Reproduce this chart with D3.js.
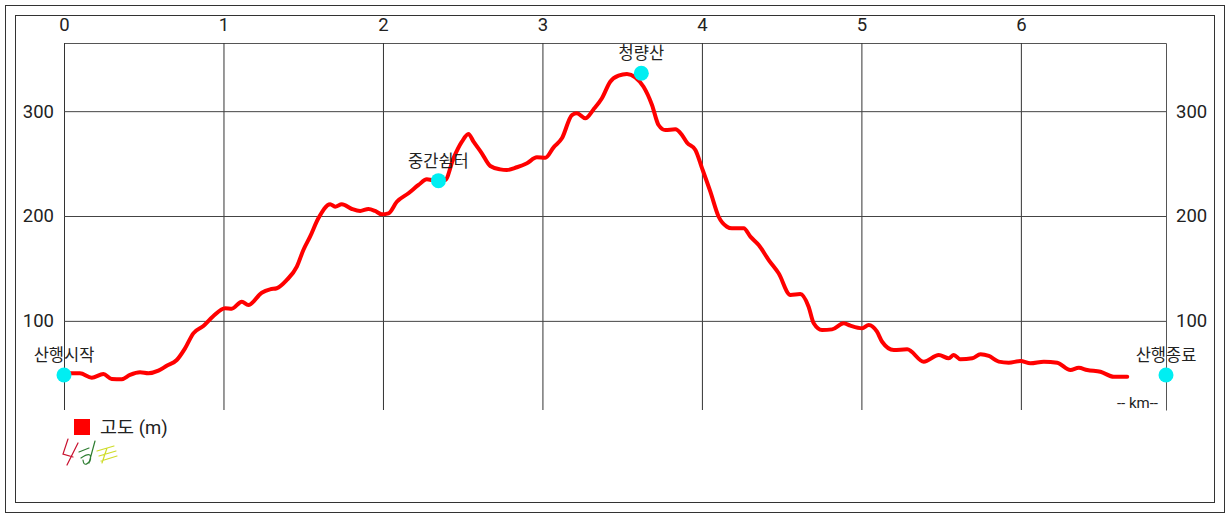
<!DOCTYPE html>
<html>
<head>
<meta charset="utf-8">
<script src="https://cdn.jsdelivr.net/npm/d3@7/dist/d3.min.js"></script>
<style>
  html, body { margin: 0; padding: 0; background: #fff; }
  svg { display: block; }
  text { font-family: Roboto, "Noto Sans CJK KR", sans-serif; fill: #222; }
</style>
</head>
<body>
<svg id="chart" width="1230" height="518"></svg>
<script>
// ---- data ----
const distanceKm = [0.000,0.038,0.100,0.174,0.247,0.299,0.362,0.414,0.477,0.529,0.592,0.644,0.707,0.759,0.811,0.874,0.937,1.010,1.052,1.115,1.156,1.240,1.292,1.334,1.397,1.460,1.501,1.543,1.595,1.669,1.700,1.742,1.805,1.857,1.909,1.951,1.993,2.035,2.087,2.160,2.223,2.275,2.307,2.348,2.390,2.442,2.495,2.536,2.568,2.620,2.673,2.735,2.777,2.840,2.903,2.965,3.018,3.070,3.122,3.185,3.216,3.269,3.321,3.373,3.425,3.477,3.530,3.582,3.634,3.687,3.728,3.770,3.833,3.875,3.907,3.959,4.001,4.053,4.105,4.157,4.188,4.262,4.304,4.356,4.419,4.481,4.555,4.617,4.669,4.701,4.753,4.816,4.889,4.931,5.004,5.046,5.098,5.130,5.203,5.287,5.391,5.485,5.548,5.579,5.621,5.695,5.747,5.799,5.861,5.924,5.997,6.060,6.144,6.228,6.311,6.363,6.416,6.499,6.583,6.667];
const elevationM = [49.5,50.0,50.0,45.8,49.3,44.6,44.3,48.4,50.9,50.0,52.5,57.2,62.7,73.8,88.1,95.1,104.6,112.0,111.6,118.3,115.1,126.9,130.1,131.1,139.0,151.7,167.6,180.3,197.8,211.2,208.9,211.2,206.7,204.8,206.7,204.8,201.6,202.6,213.6,221.7,229.6,235.0,234.3,233.7,234.3,255.0,270.9,278.2,270.9,259.8,247.7,244.5,243.9,246.5,250.3,256.0,255.6,265.5,274.1,296.3,298.0,293.2,301.8,312.3,328.1,333.8,335.4,332.3,323.3,305.9,286.8,282.0,282.7,277.3,269.9,263.0,245.5,223.2,199.3,189.8,188.3,188.3,180.3,172.4,158.0,145.4,124.7,125.6,113.5,97.7,91.3,91.9,97.7,95.4,92.9,96.1,89.7,80.1,72.2,72.9,61.1,67.5,64.3,67.5,63.3,64.3,68.1,66.5,61.1,60.1,61.7,59.5,61.1,60.1,53.1,55.3,53.1,51.5,46.7,46.7];

const waypointNames = ["산행시작", "중간쉼터", "청량산", "산행종료"];
const waypointKm    = [0.00, 2.348, 3.620, 6.91];
const waypointM     = [48.4, 233.7, 336.1, 48.4];

const xTicks = [0, 1, 2, 3, 4, 5, 6];
const yTicks = [100, 200, 300];
const xDomain = [0, 6.91];
const yDomain = [15, 365];
const legendLabel = "고도 (m)";
const unitLabel = "-- km--";

(function () {
  const svg = d3.select("#chart");
  const pLeft = 64, pRight = 1166, pTop = 43, pBottom = 410;
  const x = d3.scaleLinear().domain(xDomain).range([pLeft, pRight]);
  const y = d3.scaleLinear().domain(yDomain).range([pBottom, pTop]);

  // frames
  svg.append("rect").attr("x", 5.5).attr("y", 5.5).attr("width", 1219).attr("height", 507)
    .attr("fill", "none").attr("stroke", "#333").attr("stroke-width", 1);
  svg.append("rect").attr("x", 15.5).attr("y", 15.5).attr("width", 1199).attr("height", 487)
    .attr("fill", "none").attr("stroke", "#333").attr("stroke-width", 1);

  // top axis with vertical grid
  const gx = svg.append("g").attr("transform", `translate(0,${pTop})`)
    .call(d3.axisTop(x).tickValues(xTicks).tickFormat(d3.format("d"))
      .tickSize(-(pBottom - pTop)).tickSizeOuter(0).tickPadding(12.5));
  gx.select(".domain").attr("stroke", "#555");
  gx.selectAll(".tick line").attr("stroke", "#333");
  gx.selectAll(".tick text").attr("font-size", 18.5).attr("fill", "#222");

  // left axis with horizontal grid
  const gy = svg.append("g").attr("transform", `translate(${pLeft},0)`)
    .call(d3.axisLeft(y).tickValues(yTicks).tickSize(-(pRight - pLeft)).tickSizeOuter(0).tickPadding(10));
  gy.select(".domain").remove();
  gy.selectAll(".tick line").attr("stroke", "#444");
  gy.selectAll(".tick text").attr("font-size", 18.5).attr("fill", "#222");

  // right axis
  const gy2 = svg.append("g").attr("transform", `translate(${pRight},0)`)
    .call(d3.axisRight(y).tickValues(yTicks).tickSize(0).tickSizeOuter(0).tickPadding(10));
  gy2.select(".domain").attr("stroke", "#555");
  gy2.selectAll(".tick text").attr("font-size", 18.5).attr("fill", "#222");

  // elevation line
  const pts = distanceKm.map((d, i) => [d, elevationM[i]]);
  const line = d3.line().x(d => x(d[0])).y(d => y(d[1])).curve(d3.curveMonotoneX);
  svg.append("path").datum(pts).attr("d", line)
    .attr("fill", "none").attr("stroke", "#ff0000").attr("stroke-width", 4)
    .attr("stroke-linejoin", "round").attr("stroke-linecap", "round");

  // waypoints
  const wp = waypointNames.map((n, i) => ({ n, k: waypointKm[i], m: waypointM[i] }));
  svg.selectAll("circle.wp").data(wp).enter().append("circle").attr("class", "wp")
    .attr("cx", d => x(d.k)).attr("cy", d => y(d.m)).attr("r", 7.5).attr("fill", "#00eef2");
  svg.selectAll("text.wp").data(wp).enter().append("text").attr("class", "wp")
    .attr("x", d => x(d.k)).attr("y", d => y(d.m) - 14).attr("text-anchor", "middle")
    .attr("font-size", 16.5).attr("fill", "#222").text(d => d.n);

  // unit label
  svg.append("text").attr("x", 1158).attr("y", 408).attr("text-anchor", "end")
    .attr("font-size", 15).attr("fill", "#222").text(unitLabel);

  // legend
  svg.append("rect").attr("x", 74).attr("y", 419).attr("width", 16).attr("height", 16).attr("fill", "#ff0000");
  svg.append("text").attr("x", 100).attr("y", 434).attr("font-size", 18.5).attr("fill", "#222").text(legendLabel);

  // signature mark
  const sig = svg.append("g").attr("transform", "translate(62,438)").attr("fill", "none")
    .attr("stroke-width", 1.2).attr("stroke-linecap", "round");
  sig.append("path").attr("d", "M6,1 L1,16 L11,19 M5,27 L16,5").attr("stroke", "#c8102e");
  sig.append("path").attr("d", "M17,14 L27,10 M19,20 Q31,12 28,23 Q22,30 21,22 M33,3 L27,25").attr("stroke", "#2e7d32");
  sig.append("path").attr("d", "M35,13 L52,8 M37,18 L54,13 M39,23 L55,18 M45,10 L40,25").attr("stroke", "#cfdc2a");
})();
</script>
</body>
</html>
